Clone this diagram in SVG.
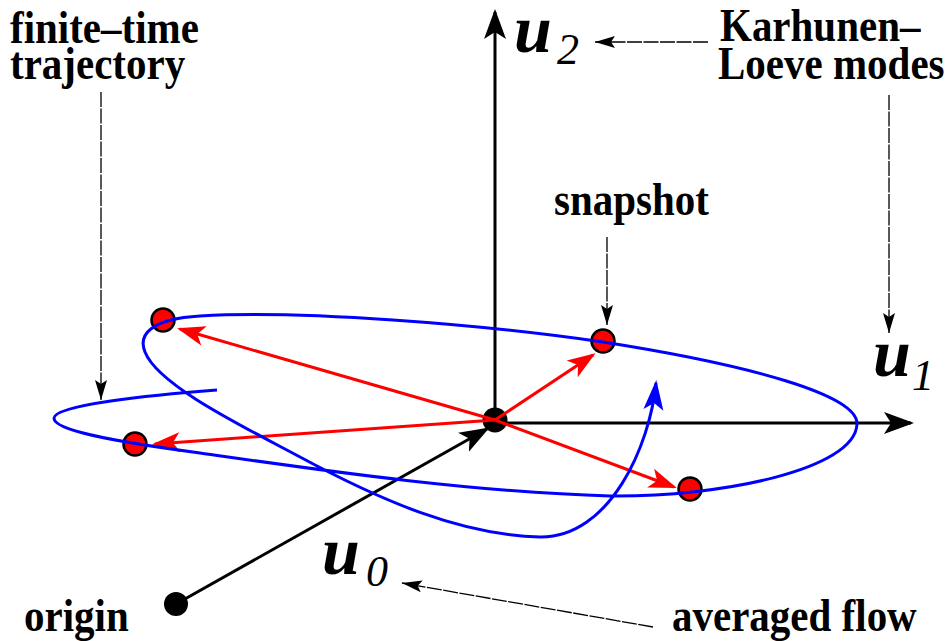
<svg xmlns="http://www.w3.org/2000/svg" width="950" height="641" viewBox="0 0 950 641">
<style>
.lbl{font-family:"Liberation Serif","Times New Roman",serif;font-weight:bold;font-size:41px;fill:#000}
.mu{font-family:"Liberation Serif","Times New Roman",serif;font-weight:bold;font-style:italic;font-size:68px;fill:#000}
.sub{font-family:"Liberation Serif","Times New Roman",serif;font-style:italic;font-size:44px;fill:#000}
.axis{stroke:#000;stroke-width:3;fill:none}
.red{stroke:#ff0000;stroke-width:3;fill:none}
.blue{stroke:#0000ff;stroke-width:3;fill:none}
.dash{stroke:#000;stroke-width:1.3;fill:none;stroke-dasharray:15 1.5}
.snap{fill:#ff0000;stroke:#000;stroke-width:2.5}
</style>
<defs>
<marker id="hBlack" markerUnits="userSpaceOnUse" viewBox="0 -12 32 24" markerWidth="32" markerHeight="24" refX="27" refY="0" orient="auto"><path d="M0,-11 L30,0 L0,11 L7,0 Z" fill="#000"/></marker>
<marker id="hRed" markerUnits="userSpaceOnUse" viewBox="0 -12 32 24" markerWidth="32" markerHeight="24" refX="25" refY="0" orient="auto"><path d="M0,-10 L28,0 L0,10 L7,0 Z" fill="#ff0000"/></marker>
<marker id="hBlue" markerUnits="userSpaceOnUse" viewBox="0 -12 32 24" markerWidth="32" markerHeight="24" refX="27" refY="0" orient="auto"><path d="M0,-10 L30,0 L0,10 L7,0 Z" fill="#0000ff"/></marker>
<marker id="hSmall" markerUnits="userSpaceOnUse" viewBox="0 -7 22 14" markerWidth="22" markerHeight="14" refX="20" refY="0" orient="auto"><path d="M0,-6 L20,0 L0,6 L4,0 Z" fill="#000"/></marker>
</defs>

<g id="connectors">
<line id="axis-u2" class="axis" x1="495" y1="423" x2="495" y2="12" marker-end="url(#hBlack)"/>
<line id="axis-u1" class="axis" x1="495" y1="423" x2="911" y2="423" marker-end="url(#hBlack)"/>
<line id="axis-u0" class="axis" x1="176" y1="604" x2="487" y2="429" marker-end="url(#hBlack)"/>
</g>

<g id="origin-point"><circle cx="176" cy="604" r="12" fill="#000"/></g>
<g id="center-point"><circle cx="495" cy="420" r="12.5" fill="#000"/></g>

<g id="snapshots">
<circle class="snap" cx="163" cy="320" r="11.5"/>
<circle class="snap" cx="135" cy="444" r="11.5"/>
<circle class="snap" cx="603" cy="341" r="11.5"/>
<circle class="snap" cx="690" cy="489" r="11.5"/>
</g>

<g id="snapshot-vectors">
<line class="red" x1="495" y1="420" x2="180" y2="329" marker-end="url(#hRed)"/>
<line class="red" x1="495" y1="420" x2="155" y2="444" marker-end="url(#hRed)"/>
<line class="red" x1="495" y1="420" x2="593" y2="355" marker-end="url(#hRed)"/>
<line class="red" x1="495" y1="420" x2="674" y2="487" marker-end="url(#hRed)"/>
</g>

<g id="trajectory">
<path class="blue" d="M217,390 C150,395 55,405 54,418 C53,430 110,441 200,453 C320,470 470,492 610,496 C720,497 855,470 857,424 C858,395 750,365 603,342 C480,324 300,310 200,316 C150,319 138,335 145,352 C158,385 240,425 300,457 C380,500 460,535 540,537 C610,538 650,445 656,383" marker-end="url(#hBlue)"/>
</g>

<g id="annotations">
<line class="dash" x1="101" y1="92" x2="101" y2="400" marker-end="url(#hSmall)"/>
<line class="dash" x1="708" y1="42" x2="595" y2="42" marker-end="url(#hSmall)"/>
<line class="dash" x1="889" y1="95" x2="889" y2="333" marker-end="url(#hSmall)"/>
<line class="dash" x1="607" y1="237" x2="607" y2="325" marker-end="url(#hSmall)"/>
<line class="dash" x1="653" y1="627" x2="402" y2="583" marker-end="url(#hSmall)"/>
</g>

<g id="label-u2"><text class="mu" x="514" y="52">u</text><text class="sub" x="557" y="64">2</text></g>
<g id="label-u1"><text class="mu" x="873" y="376">u</text><text class="sub" x="912" y="390">1</text></g>
<g id="label-u0"><text class="mu" x="322" y="574">u</text><text class="sub" x="366" y="586">0</text></g>

<g id="label-finite-time">
<text class="lbl" transform="translate(10,43) scale(1,1.12)">finite–time</text>
<text class="lbl" transform="translate(10,79) scale(1,1.12)">trajectory</text>
</g>
<g id="label-kl">
<text class="lbl" transform="translate(720,41) scale(1,1.12)">Karhunen–</text>
<text class="lbl" transform="translate(718,79) scale(1,1.12)">Loeve modes</text>
</g>
<g id="label-snapshot"><text class="lbl" transform="translate(554,215) scale(1,1.12)">snapshot</text></g>
<g id="label-origin"><text class="lbl" transform="translate(24,631) scale(1,1.12)">origin</text></g>
<g id="label-averaged"><text class="lbl" transform="translate(672,631) scale(1,1.12)">averaged flow</text></g>
</svg>
